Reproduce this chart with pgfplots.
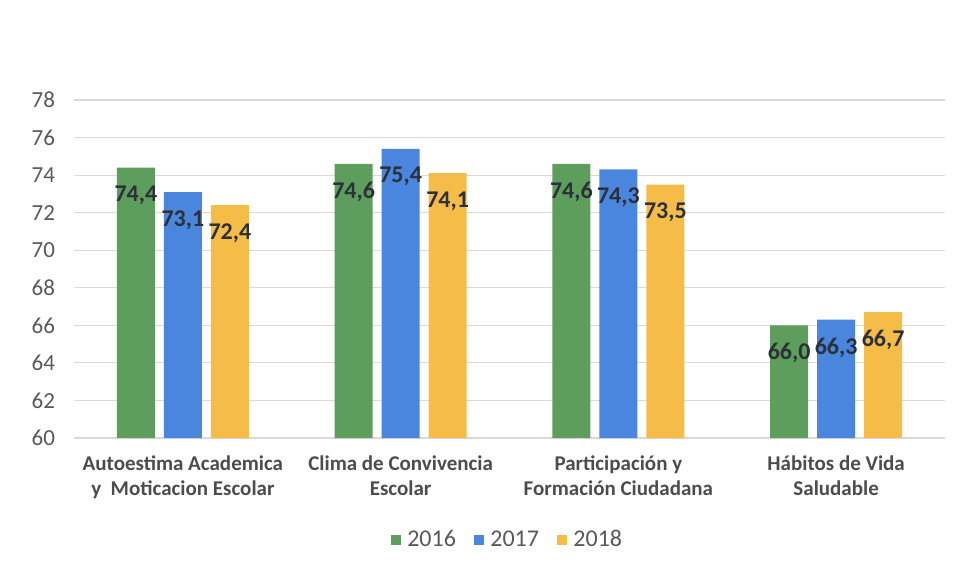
\documentclass[border=0pt]{standalone}
\usepackage{pgfplots}
\pgfplotsset{compat=1.18}
\usepackage{fontspec}
\setmainfont{Carlito}
\definecolor{cgreen}{HTML}{5E9E5C}
\definecolor{cblue}{HTML}{4A86DD}
\definecolor{cyellow}{HTML}{F6BC48}
\definecolor{ctick}{HTML}{595959}
\definecolor{clab}{HTML}{2C3038}
\begin{document}
\begin{tikzpicture}
\path[use as bounding box] (-37pt,-68pt) rectangle (443pt,219pt);
\begin{axis}[
  at={(0pt,0pt)}, anchor=south west,
  scale only axis, width=435.5pt, height=169pt,
  ybar=4.5pt, bar width=19pt,
  xmin=-0.5, xmax=3.5, ymin=60, ymax=78,
  ytick={60,62,...,78},
  xtick=data,
  xticklabels={{Autoestima Academica\\y~ Moticacion Escolar},{Clima de Convivencia\\Escolar},{Participación y\\Formación Ciudadana},{Hábitos de Vida\\Saludable}},
  xticklabel style={align=center, font=\fontsize{10.5}{12.8}\selectfont\bfseries, text=ctick!85!black, yshift=-1pt},
  yticklabel style={font=\fontsize{11.5}{13}\selectfont, text=ctick, xshift=-6pt},
  /pgf/number format/assume math mode=true,
  axis line style={draw=none},
  major tick style={draw=none},
  ymajorgrids, grid style={draw=black!15, line width=0.6pt},
  xtick pos=bottom,
  nodes near coords={\pgfmathprintnumber[fixed, fixed zerofill, precision=1, use comma, assume math mode=true]{\pgfplotspointmeta}},
  every node near coord/.append style={anchor=center, yshift=-14pt, font=\fontsize{12}{14}\selectfont\bfseries, text=clab},
  legend style={at={(0.5,-0.302)}, anchor=center, draw=none, legend columns=3, font=\fontsize{12}{14}\selectfont, text=ctick, /tikz/every even column/.append style={column sep=6pt}, nodes={inner xsep=3pt}},
  legend image code/.code={\fill (0pt,-2.6pt) rectangle (5.2pt,2.6pt);},
]
\addplot[fill=cgreen, draw=none] coordinates {(0,74.4) (1,74.6) (2,74.6) (3,66.0)};
\addplot[fill=cblue, draw=none] coordinates {(0,73.1) (1,75.4) (2,74.3) (3,66.3)};
\addplot[fill=cyellow, draw=none] coordinates {(0,72.4) (1,74.1) (2,73.5) (3,66.7)};
\legend{2016,2017,2018}
\end{axis}
\end{tikzpicture}
\end{document}
